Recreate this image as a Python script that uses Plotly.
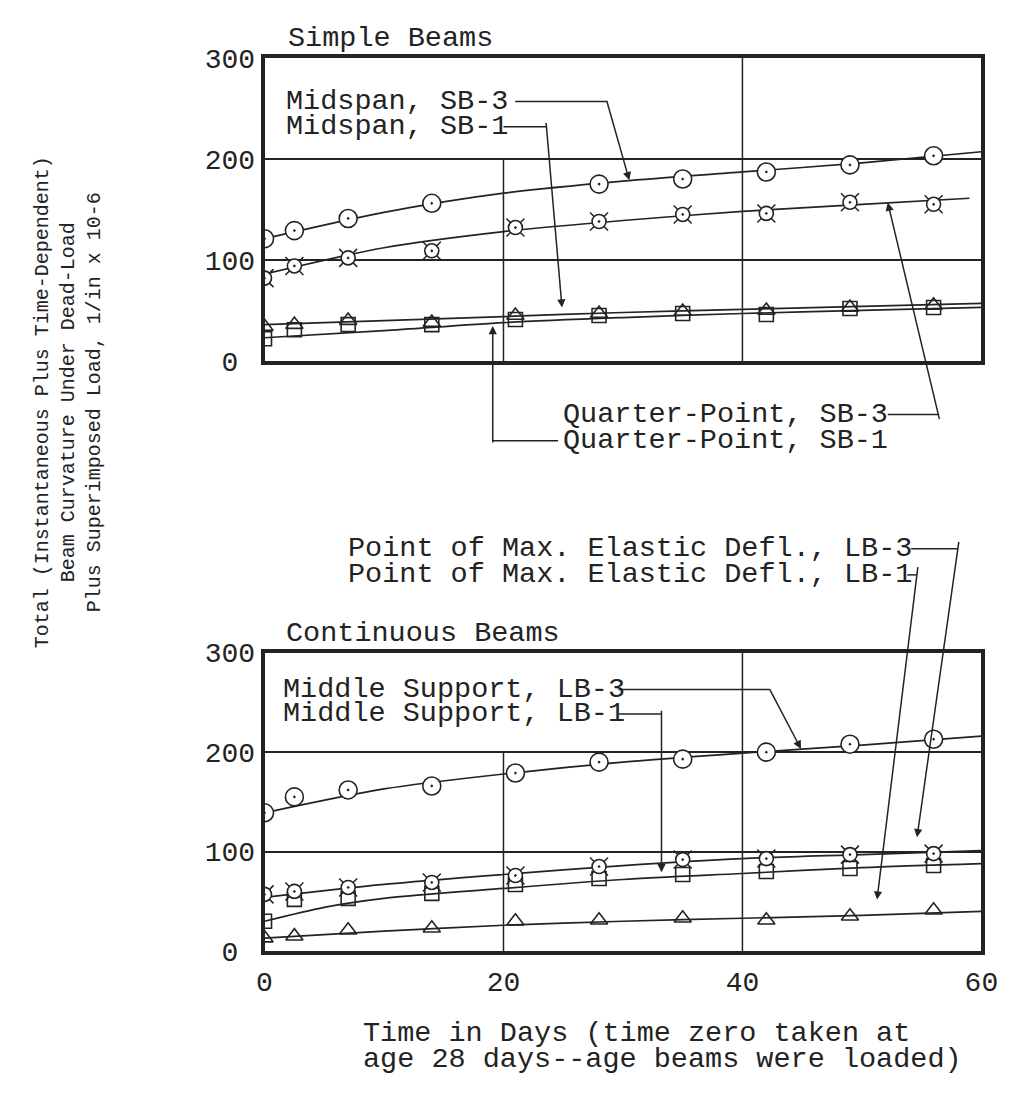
import plotly.graph_objects as go

W, H = 1014, 1112
INK = "#232323"
FONT = "Liberation Mono, DejaVu Sans Mono, monospace"

# ---------------- data ----------------
days = [0, 2.5, 7, 14, 21, 28, 35, 42, 49, 56]
fit_days = [0, 10, 20, 30, 40, 50, 60]

# Simple beams
mid_sb3_days = [0, 2.5, 7, 14, 28, 35, 42, 49, 56]
mid_sb3 = [121, 129, 141, 156, 175, 180, 187, 194, 203]
mid_sb3_fit = [121, 147, 166, 178, 187, 196, 207]

qp_sb3 = [82, 94, 102, 109, 132, 138, 145, 146, 157, 155]
qp_sb3_fit_days = [0, 10, 20, 30, 40, 50, 59]
qp_sb3_fit = [86, 112, 128, 139, 148, 155, 161]

mid_sb1 = [34, 36, 40, 38, 45, 47, 49, 50, 53, 55]
mid_sb1_fit = [36, 40, 44, 48, 51, 54, 57]

qp_sb1 = [22, 31, 36, 36, 41, 45, 47, 46, 52, 53]
qp_sb1_fit = [23, 30, 38, 43, 47, 50, 53]

# Continuous beams
ms_lb3 = [139, 155, 162, 166, 179, 190, 193, 200, 208, 213]
ms_lb3_fit = [139, 163, 178, 190, 199, 207, 216]

md_lb3 = [57, 60, 64, 69, 76, 85, 92, 93, 97, 98]
md_lb3_fit = [54, 67, 77, 86, 93, 97, 101]

ms_lb1 = [30, 52, 53, 58, 67, 73, 77, 80, 83, 86]
ms_lb1_fit_days = [0, 5, 10, 20, 30, 40, 50, 60]
ms_lb1_fit = [30, 44, 53, 63, 72, 78, 84, 88]

md_lb1 = [13, 15, 21, 23, 30, 31, 33, 31, 35, 41]
md_lb1_fit = [13, 20, 26, 30, 33, 36, 40]

x_ticks = [0, 20, 40, 60]
y_ticks = [0, 100, 200, 300]
y_tick_text = ["0\u00a0", "100", "200", "300"]

# ---------------- layout geometry (pixels) ----------------
X0, X1 = 263, 998
T0, T1 = 46, 358
B0, B1 = 658, 965


def px(x):
    return x / W


def py(y):
    return 1 - y / H


fig = go.Figure()


def curve(xs, ys, xa, ya):
    fig.add_trace(go.Scatter(x=xs, y=ys, mode="lines", xaxis=xa, yaxis=ya,
                             line=dict(color=INK, width=1.7, shape="spline", smoothing=0.8),
                             hoverinfo="skip"))


def marks(xs, ys, xa, ya, kind):
    if kind == "circle":
        fig.add_trace(go.Scatter(x=xs, y=ys, mode="markers", xaxis=xa, yaxis=ya,
                                 marker=dict(symbol="circle-dot", size=18, color="white",
                                             line=dict(color=INK, width=1.6))))
    elif kind == "tick":
        fig.add_trace(go.Scatter(x=xs, y=ys, mode="markers", xaxis=xa, yaxis=ya,
                                 marker=dict(symbol="x-thin-open", size=18, color=INK,
                                             line=dict(color=INK, width=1.5))))
        fig.add_trace(go.Scatter(x=xs, y=ys, mode="markers", xaxis=xa, yaxis=ya,
                                 marker=dict(symbol="circle-dot", size=14, color="white",
                                             line=dict(color=INK, width=1.6))))
    elif kind == "square":
        fig.add_trace(go.Scatter(x=xs, y=ys, mode="markers", xaxis=xa, yaxis=ya,
                                 marker=dict(symbol="square-open", size=14, color=INK,
                                             line=dict(color=INK, width=1.6))))
    elif kind == "triangle":
        fig.add_trace(go.Scatter(x=xs, y=ys, mode="markers", xaxis=xa, yaxis=ya,
                                 marker=dict(symbol="triangle-up-open", size=15, color=INK,
                                             line=dict(color=INK, width=1.6))))


# top panel
curve(fit_days, mid_sb3_fit, "x", "y")
curve(qp_sb3_fit_days, qp_sb3_fit, "x", "y")
curve(fit_days, mid_sb1_fit, "x", "y")
curve(fit_days, qp_sb1_fit, "x", "y")
marks(days, qp_sb1, "x", "y", "square")
marks(days, mid_sb1, "x", "y", "triangle")
marks(days, qp_sb3, "x", "y", "tick")
marks(mid_sb3_days, mid_sb3, "x", "y", "circle")

# bottom panel
curve(fit_days, ms_lb3_fit, "x2", "y2")
curve(fit_days, md_lb3_fit, "x2", "y2")
curve(ms_lb1_fit_days, ms_lb1_fit, "x2", "y2")
curve(fit_days, md_lb1_fit, "x2", "y2")
marks(days, ms_lb1, "x2", "y2", "square")
marks(days, md_lb1, "x2", "y2", "triangle")
marks(days, md_lb3, "x2", "y2", "tick")
marks(days, ms_lb3, "x2", "y2", "circle")

axis_common = dict(showline=True, linewidth=3.5, linecolor=INK, mirror=True,
                   ticks="", zeroline=False,
                   tickfont=dict(family=FONT, size=28, color=INK))

fig.update_layout(
    width=W, height=H, margin=dict(l=0, r=0, t=0, b=0),
    paper_bgcolor="white", plot_bgcolor="white", showlegend=False,
    xaxis=dict(domain=[px(X0), px(X1)], range=[0, 60], anchor="y",
               showticklabels=False, showgrid=False, **axis_common),
    yaxis=dict(domain=[py(T1), py(T0)], range=[0, 300], anchor="x",
               tickvals=y_ticks, ticktext=y_tick_text, ticklabelstandoff=0,
               showgrid=True, gridcolor=INK, gridwidth=1.5, **axis_common),
    xaxis2=dict(domain=[px(X0), px(X1)], range=[0, 60], anchor="y2",
                tickvals=x_ticks, ticklabelstandoff=3, ticklabeloverflow="allow",
                showgrid=False, **axis_common),
    yaxis2=dict(domain=[py(B1), py(B0)], range=[0, 300], anchor="x2",
                tickvals=y_ticks, ticktext=y_tick_text, ticklabelstandoff=0,
                showgrid=True, gridcolor=INK, gridwidth=1.5, **axis_common),
)

shapes = []
# partial vertical grid lines
for xr, yr in (("x", "y"), ("x2", "y2")):
    shapes.append(dict(type="line", xref=xr, yref=yr, x0=40, x1=40, y0=0, y1=300,
                       line=dict(color=INK, width=1.5), layer="below"))
    shapes.append(dict(type="line", xref=xr, yref=yr, x0=20, x1=20, y0=0, y1=200,
                       line=dict(color=INK, width=1.5), layer="below"))

annotations = []


def label(text, x, y, size=28.5, anchor="left"):
    annotations.append(dict(text=text, x=px(x), y=py(y), xref="paper", yref="paper",
                            xanchor=anchor, yanchor="middle", align="left", showarrow=False,
                            font=dict(family=FONT, size=size, color=INK)))


def leader(points, tip):
    path = "M " + " L ".join(f"{px(a):.5f},{py(b):.5f}" for a, b in points)
    shapes.append(dict(type="path", xref="paper", yref="paper", path=path,
                       line=dict(color=INK, width=1.5)))
    tx, ty = points[-1]
    annotations.append(dict(text="", x=px(tip[0]), y=py(tip[1]), xref="paper", yref="paper",
                            ax=tx - tip[0], ay=ty - tip[1], showarrow=True,
                            arrowhead=2, arrowsize=1.1, arrowwidth=1.5, arrowcolor=INK))


label("Simple Beams", 285, 26)
label("Midspan, SB-3", 283, 91)
label("Midspan, SB-1", 283, 117)
leader([(520, 91), (614, 91)], (637, 172))
leader([(508, 117), (552, 117)], (568, 303))
label("Quarter-Point, SB-3", 567, 413)
label("Quarter-Point, SB-1", 567, 440)
leader([(902, 413), (954, 413)], (902, 195))
leader([(564, 440), (497, 440)], (497, 322))

label("Point of Max. Elastic Defl., LB-3", 347, 551)
label("Point of Max. Elastic Defl., LB-1", 347, 578)
leader([(926, 551), (974, 551)], (932, 848))
leader([(922, 578), (932, 578)], (891, 912))
label("Continuous Beams", 283, 638)
label("Middle Support, LB-3", 280, 696)
label("Middle Support, LB-1", 280, 721)
leader([(626, 696), (781, 696)], (813, 757))
leader([(626, 721), (670, 721)], (670, 884))

label("Time in Days (time zero taken at", 362, 1050)
label("age 28 days--age beams were loaded)", 362, 1077)
annotations.append(dict(
    text="Total (Instantaneous Plus Time-Dependent)<br>Beam Curvature Under Dead-Load<br>Plus Superimposed Load, 1/in x 10-6",
    x=px(62), y=py(400), xref="paper", yref="paper", xanchor="center", yanchor="middle",
    textangle=-90, showarrow=False, font=dict(family=FONT, size=20, color=INK)))

fig.update_layout(shapes=shapes, annotations=annotations)
fig.write_html("out.html")
